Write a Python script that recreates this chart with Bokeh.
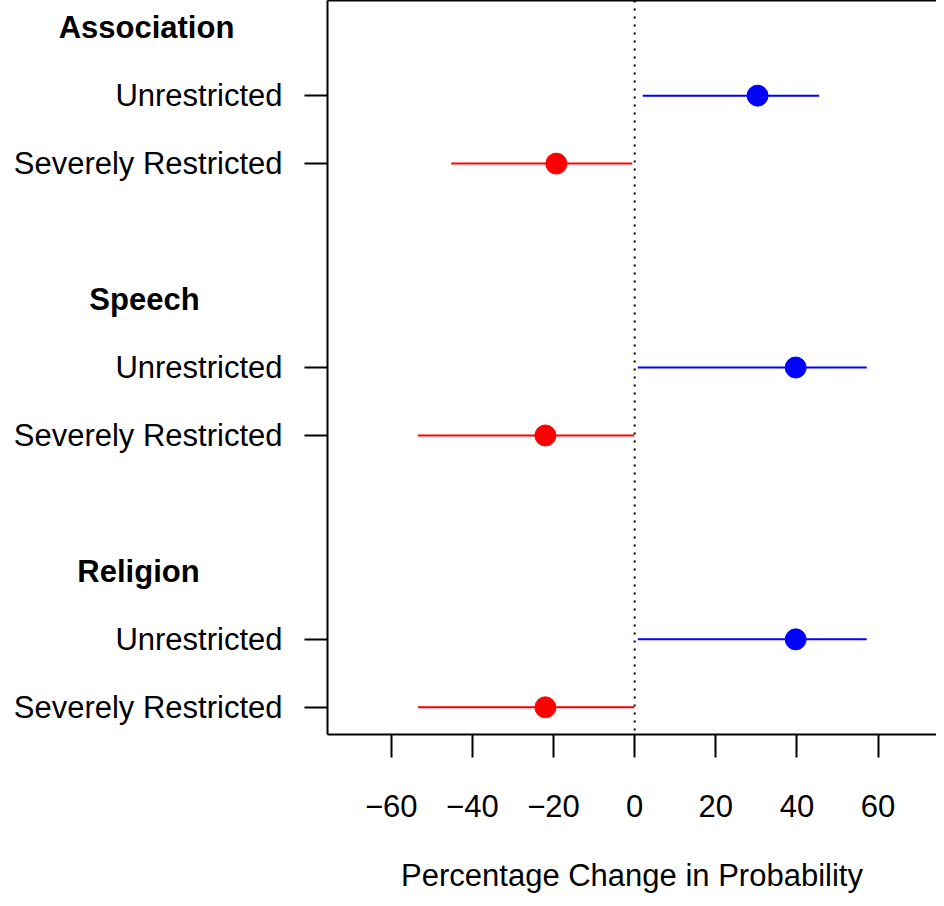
from bokeh.plotting import figure
from bokeh.layouts import row
from bokeh.models import (Range1d, FixedTicker, LinearAxis, Span, ColumnDataSource,
                          CustomLabelingPolicy)
from bokeh.core.properties import value
from bokeh.embed import file_html
from bokeh.resources import INLINE

# ---------------- data ----------------
groups = ["Association", "Speech", "Religion"]
levels = ["Unrestricted", "Severely Restricted"]

assoc_est = [30.3, -19.3]
assoc_lo = [2.0, -45.2]
assoc_hi = [45.5, -0.6]

speech_est = [39.7, -22.0]
speech_lo = [0.8, -53.4]
speech_hi = [57.2, -0.1]

religion_est = [39.7, -22.0]
religion_lo = [0.8, -53.4]
religion_hi = [57.2, -0.1]

x_ticks = [-60, -40, -20, 0, 20, 40, 60]
x_tick_labels = ["\u221260", "\u221240", "\u221220", "0", "20", "40", "60"]

x_label = "Percentage Change in Probability"

# ---------------- style / layout ----------------
FONT = "Liberation Sans"
FS = "31px"
level_colors = ["#0000FF", "#FF0000"]

W, H = 936, 898
LABEL_W = 304          # width of the label column (px)
TICK = 23              # tick length (px)
BOTTOM = 164
x0, x1 = -75.7, 74.4
label_right_px = 282   # right edge of row labels inside label column
header_center_px = [146, 144, 138]

est_all = [assoc_est, speech_est, religion_est]
lo_all = [assoc_lo, speech_lo, religion_lo]
hi_all = [assoc_hi, speech_hi, religion_hi]

# row layout: header, then one row per level, then a blank row
n_rows = len(groups) * (len(levels) + 2) - 1
xs, ys, los, his, cols = [], [], [], [], []
tick_ys, tick_text, header_ys = [], [], []
for g, name in enumerate(groups):
    top_row = n_rows - g * (len(levels) + 2)
    header_ys.append(top_row)
    for k, lev in enumerate(levels):
        yy = top_row - 1 - k
        xs.append(est_all[g][k])
        los.append(lo_all[g][k])
        his.append(hi_all[g][k])
        ys.append(yy)
        cols.append(level_colors[k])
        tick_ys.append(yy)
        tick_text.append(lev)

src = ColumnDataSource(dict(est=xs, lo=los, hi=his, y=ys, color=cols))
y_range = Range1d(0.6, n_rows + 0.4)

# ---------------- label column ----------------
lab = figure(width=LABEL_W, height=H, output_backend="svg", toolbar_location=None,
             x_range=Range1d(0, LABEL_W), y_range=y_range,
             x_axis_location=None, y_axis_location=None,
             min_border_left=0, min_border_right=0, min_border_top=0,
             min_border_bottom=BOTTOM)
lab.outline_line_color = None
lab.xgrid.visible = False
lab.ygrid.visible = False
lab.background_fill_color = "white"
lab.border_fill_color = "white"

lab.text(x=[label_right_px] * len(tick_ys), y=tick_ys, text=tick_text,
         text_font=value(FONT), text_font_size=value(FS), text_color="black",
         text_align="right", text_baseline="middle")
lab.text(x=header_center_px, y=header_ys, text=groups,
         text_font=value(FONT), text_font_size=value(FS), text_color="black",
         text_font_style="bold", text_align="center", text_baseline="middle")

# ---------------- main panel ----------------
p = figure(width=W - LABEL_W, height=H, output_backend="svg", toolbar_location=None,
           x_range=Range1d(x0, x1), y_range=y_range,
           min_border_left=TICK, min_border_right=0, min_border_top=0,
           min_border_bottom=BOTTOM)
p.outline_line_color = None
p.xgrid.visible = False
p.ygrid.visible = False
p.background_fill_color = "white"
p.border_fill_color = "white"

xa = p.xaxis[0]
xa.ticker = FixedTicker(ticks=x_ticks)
xa.major_label_overrides = {t: s for t, s in zip(x_ticks, x_tick_labels)}
xa.axis_label = x_label
xa.axis_label_text_font = FONT
xa.axis_label_text_font_size = FS
xa.axis_label_text_font_style = "normal"
xa.axis_label_text_color = "black"
xa.axis_label_standoff = 38
xa.major_label_text_font = FONT
xa.major_label_text_font_size = FS
xa.major_label_text_color = "black"
xa.major_label_standoff = 37
xa.major_tick_out = TICK
xa.major_tick_in = 0
xa.minor_tick_out = 0
xa.minor_tick_in = 0
xa.axis_line_width = 2
xa.axis_line_color = "black"
xa.major_tick_line_width = 2
xa.major_tick_line_color = "black"

# y axis: ticks only (row names are drawn in the label column)
ya = p.yaxis[0]
ya.ticker = FixedTicker(ticks=tick_ys)
ya.major_label_text_font_size = "0px"
ya.major_label_standoff = 0
ya.major_label_policy = CustomLabelingPolicy(
    code="return new indices.constructor(indices.size, 0)")
ya.major_tick_out = TICK
ya.major_tick_in = 0
ya.minor_tick_out = 0
ya.minor_tick_in = 0
ya.axis_line_width = 2
ya.axis_line_color = "black"
ya.major_tick_line_width = 2
ya.major_tick_line_color = "black"

top = LinearAxis(ticker=FixedTicker(ticks=[]), major_tick_out=0, major_tick_in=0,
                 minor_tick_out=0, minor_tick_in=0,
                 major_label_text_font_size="0px",
                 axis_line_width=2, axis_line_color="black")
p.add_layout(top, "above")

p.add_layout(Span(location=0, dimension="height", line_color="black",
                  line_width=2, line_dash="2 6"))

p.segment(x0="lo", y0="y", x1="hi", y1="y", line_color="color",
          line_width=2, source=src)
p.scatter(x="est", y="y", size=21, fill_color="color", line_color="color",
          source=src)

layout = row(lab, p)
open("out.html", "w").write(file_html(layout, INLINE))
